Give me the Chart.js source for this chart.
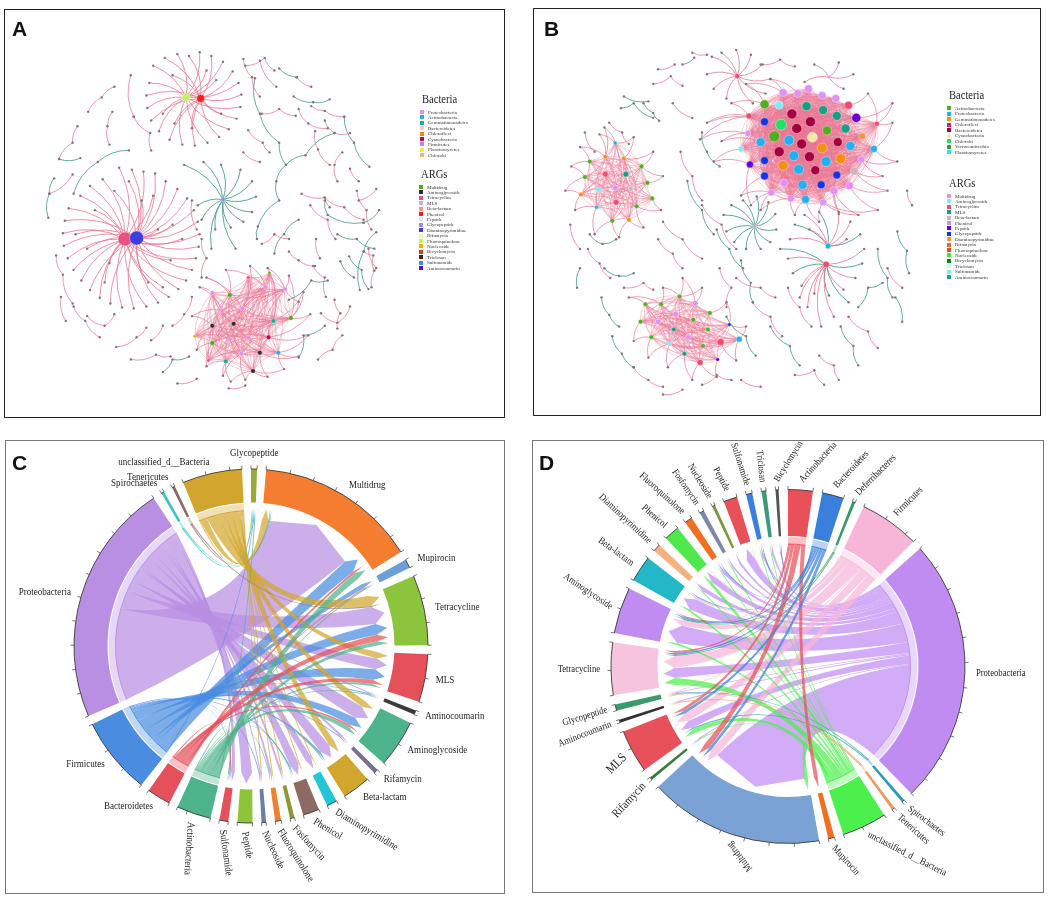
<!DOCTYPE html>
<html>
<head>
<meta charset="utf-8">
<script src="https://cdn.jsdelivr.net/npm/chart.js@4.4.0/dist/chart.umd.min.js"></script>
<style>
  body { margin: 0; background: #fff; width: 1052px; height: 904px; position: relative; overflow: hidden; }
  .frame { position: absolute; box-sizing: border-box; }
  canvas { position: absolute; }
  .tag { position: absolute; font: bold 21px "Liberation Sans", Arial, sans-serif; line-height: 1; color: #111; }
  .lg-title { position: absolute; font: 12px "Liberation Serif", serif; color: #222; white-space: nowrap; line-height: 1;
    transform: scaleX(0.88); transform-origin: left center; }
  .lg-item { position: absolute; font: 5px "Liberation Serif", serif; color: #333; white-space: nowrap; line-height: 5px; }
  .lg-box { position: absolute; width: 4px; height: 4px; }
</style>
</head>
<body>
<div class="frame" style="left:4px;top:9px;width:501px;height:409px;border:1.5px solid #222"></div>
<div class="frame" style="left:533px;top:8px;width:508px;height:408px;border:1.5px solid #222"></div>
<div class="frame" style="left:5px;top:440px;width:500px;height:454px;border:1px solid #777"></div>
<div class="frame" style="left:532px;top:440px;width:512px;height:453px;border:1px solid #777"></div>

<canvas id="netA" width="501" height="409" style="left:4px;top:9px"></canvas>
<canvas id="netB" width="508" height="408" style="left:533px;top:8px"></canvas>
<canvas id="chordC" width="500" height="454" style="left:5px;top:440px"></canvas>
<canvas id="chordD" width="512" height="453" style="left:532px;top:440px"></canvas>

<div class="tag" style="left:12px;top:18px">A</div>
<div class="tag" style="left:544px;top:18px">B</div>
<div class="tag" style="left:12px;top:452px">C</div>
<div class="tag" style="left:539px;top:452px">D</div>

<script>
// ---------- panel A: network ----------
const aBacteria = ["Proteobacteria", "Actinobacteria", "Gemmatimonadetes", "Bacteroidetes", "Chloroflexi",
  "Cyanobacteria", "Firmicutes", "Planctomycetes", "Chlorobi"];
const aArgs = ["Multidrug", "Aminoglycoside", "Tetracycline", "MLS", "Beta-lactam", "Phenicol", "Peptide",
  "Glycopeptide", "Diaminopyrimidine", "Rifamycin", "Fluoroquinolone", "Nucleoside", "Bicyclomycin",
  "Triclosan", "Sulfonamide", "Aminocoumarin"];

// hubs: [x, y, type, size]; leaves: [x, y, hub]
const aBigHubs = [[121, 240, "Tetracycline", 7], [133, 239, "Diaminopyrimidine", 7]];
const aBigLeaves = [
  [115, 166, 0], [128, 168, 1], [140, 170, 0], [152, 172, 1], [98, 178, 0], [163, 180, 1], [85, 185, 0],
  [175, 188, 1], [75, 195, 0], [185, 198, 1], [192, 210, 0], [196, 222, 1], [198, 235, 0], [197, 248, 1],
  [194, 260, 0], [190, 272, 1], [184, 283, 0], [176, 292, 1], [166, 300, 0], [155, 306, 1], [143, 310, 0],
  [130, 312, 1], [118, 311, 0], [106, 307, 1], [95, 301, 0], [85, 293, 1], [76, 283, 0], [68, 272, 1],
  [62, 260, 0], [58, 247, 1], [57, 234, 0], [59, 221, 1], [63, 208, 0], [110, 190, 1], [150, 195, 0],
  [170, 225, 1], [168, 262, 0], [145, 285, 1], [100, 285, 0], [82, 250, 1], [90, 210, 0], [125, 180, 1],
  [160, 290, 0], [70, 235, 1], [180, 240, 0], [138, 200, 1], [105, 265, 0], [155, 230, 1]];
const aTopHubs = [[184, 93, "Fluoroquinolone", 4], [199, 94, "Phenicol", 4]];
const aTopLeaves = [
  [150, 60, 0], [162, 52, 1], [175, 48, 0], [187, 50, 1], [198, 46, 0], [210, 50, 1], [222, 56, 0],
  [232, 66, 1], [238, 78, 0], [241, 90, 1], [240, 103, 0], [236, 115, 1], [228, 126, 0], [218, 134, 1],
  [206, 140, 0], [193, 143, 1], [180, 142, 0], [167, 137, 1], [156, 128, 0], [148, 117, 1], [144, 104, 0],
  [143, 91, 1], [146, 78, 0], [170, 70, 1], [215, 75, 0], [220, 110, 1], [160, 110, 0], [190, 125, 1],
  [205, 65, 0], [172, 120, 1]];
const aFanHubs = [[222, 199, "Glycopeptide", 2.2]];
const aFanLeaves = [
  [182, 163, 0], [202, 160, 0], [220, 163, 0], [240, 168, 0], [252, 180, 0], [256, 196, 0], [252, 212, 0],
  [243, 222, 0], [230, 228, 0], [214, 230, 0], [200, 220, 0], [196, 205, 0], [235, 250, 0], [210, 250, 0]];
// dense module: [x, y, type, size]; rim: [x, y, member, member]
const aModule = [
  [211, 296, "Proteobacteria", 2.3], [229, 298, "Multidrug", 2.3], [266, 290, "Proteobacteria", 2.3],
  [286, 292, "Proteobacteria", 2.3], [221, 314, "Proteobacteria", 2.3], [242, 312, "Proteobacteria", 2.3],
  [211, 330, "Aminoglycoside", 2.3], [233, 328, "Aminoglycoside", 2.3], [274, 325, "Gemmatimonadetes", 2.3],
  [292, 322, "Multidrug", 2.3], [269, 342, "Cyanobacteria", 2.3], [229, 344, "Proteobacteria", 2.3],
  [248, 342, "Proteobacteria", 2.3], [211, 348, "Multidrug", 2.3], [241, 359, "Proteobacteria", 2.3],
  [260, 358, "Aminoglycoside", 2.3], [279, 358, "Actinobacteria", 2.3], [225, 367, "Gemmatimonadetes", 2.3],
  [253, 377, "Aminoglycoside", 2.3], [193, 341, "Nucleoside", 1.8], [207, 366, "Tetracycline", 1.8],
  [248, 280, "Tetracycline", 1.8], [270, 275, "Multidrug", 1.5]];
const aModuleRim = [
  [198, 290, 0, 4], [205, 280, 1, 5], [225, 272, 1, 2], [250, 268, 2, 5], [268, 270, 3, 8], [290, 278, 3, 9],
  [305, 295, 9, 8], [312, 318, 9, 10], [310, 340, 10, 16], [300, 362, 16, 15], [285, 375, 16, 18],
  [268, 383, 18, 15], [245, 386, 18, 14], [222, 382, 17, 14], [205, 372, 17, 13], [195, 355, 13, 6],
  [190, 320, 6, 4], [300, 305, 9, 3], [230, 388, 17, 18]];
// loose chains: tone ("p" pink / "g" green) then nodes
const aChains = [
  ["p", [127, 70], [130, 113]], ["p", [110, 82], [97, 93], [83, 108]], ["p", [108, 108], [103, 123], [105, 142]],
  ["p", [130, 113], [147, 130], [148, 148]], ["p", [72, 123], [67, 140], [53, 157]], ["g", [53, 157], [75, 156]],
  ["g", [125, 148], [93, 160], [68, 193]], ["g", [48, 177], [43, 193], [42, 218]], ["p", [43, 193], [67, 173]],
  ["p", [50, 257], [57, 277], [67, 307]], ["p", [68, 310], [80, 325], [95, 342]],
  ["p", [112, 352], [133, 342], [143, 332]], ["p", [127, 365], [153, 360], [168, 362]],
  ["g", [160, 378], [170, 365], [187, 362]], ["p", [82, 320], [100, 330], [110, 318]], ["p", [55, 300], [60, 325]],
  ["p", [170, 330], [182, 318], [190, 300]], ["p", [243, 53], [252, 72], [260, 92]], ["p", [260, 55], [277, 82]],
  ["g", [280, 63], [298, 72]], ["p", [298, 72], [313, 82]], ["g", [295, 92], [315, 98], [332, 95]],
  ["g", [255, 73], [260, 110], [280, 140], [287, 163]], ["p", [262, 110], [280, 105], [297, 112]],
  ["p", [313, 102], [327, 107], [347, 113]], ["g", [347, 113], [357, 140], [373, 165]],
  ["p", [327, 117], [337, 130], [353, 130]], ["p", [345, 150], [337, 163], [340, 180]], ["p", [353, 167], [362, 180]],
  ["g", [337, 130], [307, 153], [287, 163]], ["g", [287, 163], [277, 180], [280, 200], [258, 227], [257, 240]],
  ["p", [248, 127], [263, 140], [270, 150]], ["p", [243, 150], [260, 160]], ["p", [317, 128], [320, 147], [332, 163]],
  ["p", [303, 193], [327, 197], [332, 207]], ["p", [327, 197], [347, 207], [367, 220]],
  ["g", [327, 200], [330, 215], [367, 223]], ["p", [362, 200], [380, 188]], ["g", [367, 223], [383, 210]],
  ["g", [343, 263], [357, 280]], ["g", [380, 233], [367, 253], [363, 293]], ["p", [367, 253], [377, 257], [378, 273]],
  ["p", [290, 253], [300, 262], [317, 268]], ["p", [315, 268], [327, 280], [328, 300]],
  ["g", [290, 303], [313, 283], [330, 283]], ["g", [300, 363], [305, 340], [327, 330]],
  ["p", [323, 317], [340, 327], [353, 310]], ["p", [337, 303], [343, 317], [340, 333]],
  ["p", [200, 240], [205, 260], [200, 280]], ["p", [190, 200], [195, 230]], ["p", [262, 245], [275, 235], [290, 240]],
  ["p", [228, 395], [245, 392]], ["p", [175, 390], [195, 385]], ["p", [148, 345], [160, 330]],
  ["p", [245, 60], [265, 52], [275, 65]], ["p", [300, 105], [310, 120], [330, 125]],
  ["p", [360, 190], [370, 210], [375, 230]], ["g", [340, 235], [360, 240], [378, 250]],
  ["p", [372, 250], [380, 270], [375, 290]], ["g", [352, 258], [365, 272], [372, 292]],
  ["p", [312, 205], [330, 220], [338, 240]], ["p", [318, 240], [322, 260]], ["g", [300, 220], [285, 235], [275, 255]],
  ["p", [345, 340], [335, 355], [320, 365]]];

// ---------- panel B: network ----------
const bBacteria = ["Actinobacteria", "Proteobacteria", "Gemmatimonadetes", "Chloroflexi", "Bacteroidetes",
  "Cyanobacteria", "Chlorobi", "Verrucomicrobia", "Planctomycetes"];
const bArgs = aArgs.slice();

const bCore = [
  [783, 89, "Multidrug", 4], [798, 90, "Multidrug", 4], [809, 85, "Multidrug", 4], [823, 92, "Multidrug", 4],
  [837, 95, "Multidrug", 4], [850, 102, "Tetracycline", 4], [764, 101, "Actinobacteria", 4.5],
  [779, 102, "Aminoglycoside", 4], [807, 103, "MLS", 4.5], [824, 107, "MLS", 4.5], [838, 113, "MLS", 4.5],
  [858, 115, "Peptide", 4.5], [792, 111, "Bacteroidetes", 5], [811, 119, "Bacteroidetes", 5],
  [781, 122, "Chlorobi", 5.5], [797, 126, "Bacteroidetes", 5], [828, 128, "Actinobacteria", 4.5],
  [847, 126, "MLS", 4.5], [764, 119, "Glycopeptide", 4], [774, 134, "Actinobacteria", 5.5],
  [789, 138, "Proteobacteria", 5], [813, 135, "Cyanobacteria", 5], [802, 142, "Bacteroidetes", 5],
  [823, 146, "Gemmatimonadetes", 5], [839, 140, "Bacteroidetes", 4.5], [852, 144, "Proteobacteria", 4.5],
  [760, 140, "Proteobacteria", 4.5], [779, 150, "Bacteroidetes", 5], [794, 154, "Proteobacteria", 5],
  [810, 155, "Bacteroidetes", 5], [827, 160, "Proteobacteria", 5], [842, 157, "Gemmatimonadetes", 5],
  [864, 134, "Diaminopyrimidine", 3.5], [764, 159, "Glycopeptide", 4], [749, 163, "Peptide", 3.5],
  [783, 164, "Gemmatimonadetes", 5], [799, 168, "Proteobacteria", 5], [816, 169, "Bacteroidetes", 4.5],
  [838, 174, "Glycopeptide", 4], [856, 170, "Beta-lactam", 4], [764, 175, "Glycopeptide", 4],
  [784, 182, "Multidrug", 4], [803, 184, "Proteobacteria", 4.5], [822, 184, "Glycopeptide", 4],
  [835, 190, "Multidrug", 4], [851, 185, "Multidrug", 4], [771, 192, "Multidrug", 3.5],
  [791, 198, "Multidrug", 3.5], [806, 199, "Proteobacteria", 4], [824, 202, "Multidrug", 3.5],
  [863, 158, "Multidrug", 3.5], [876, 147, "Proteobacteria", 3.5], [879, 121, "Tetracycline", 2.5],
  [748, 113, "Tetracycline", 3], [747, 131, "Multidrug", 3], [740, 147, "Aminoglycoside", 3]];
const bCoreRim = [
  [698, 137, 53, 54], [720, 139, 54, 26], [705, 120, 53, 18], [730, 100, 6, 53], [745, 80, 0, 6],
  [770, 75, 0, 1], [900, 160, 51, 50], [890, 190, 45, 39], [880, 210, 49, 45], [860, 215, 44, 49],
  [840, 212, 44, 38], [870, 90, 5, 52], [895, 120, 52, 51], [885, 175, 50, 39], [740, 195, 46, 40],
  [750, 205, 46, 34], [760, 210, 47, 46], [712, 160, 55, 34], [895, 100, 52, 11], [795, 215, 47, 48],
  [820, 222, 48, 49]];
const bLeftModule = [
  [601, 173, "Tetracycline", 2.8], [622, 173, "MLS", 2.8], [611, 187, "Multidrug", 2.8],
  [594, 189, "Aminoglycoside", 2.8], [612, 202, "Tetracycline", 2.8], [638, 165, "Actinobacteria", 2.3],
  [644, 182, "Actinobacteria", 2.3], [633, 206, "Actinobacteria", 2.3], [625, 220, "Gemmatimonadetes", 2.3],
  [608, 221, "Actinobacteria", 2.3], [576, 194, "Gemmatimonadetes", 2.3], [580, 176, "Actinobacteria", 2.3],
  [585, 160, "Actinobacteria", 2.3], [601, 155, "Gemmatimonadetes", 2.3], [620, 157, "Gemmatimonadetes", 2.3],
  [611, 141, "Proteobacteria", 2], [592, 207, "Proteobacteria", 2], [649, 198, "Actinobacteria", 2.3],
  [627, 188, "Beta-lactam", 2.3]];
const bLeftRim = [
  [566, 165, 11, 12], [570, 210, 10, 16], [560, 190, 10, 11], [590, 235, 9, 16], [615, 238, 8, 9],
  [640, 228, 7, 8], [658, 210, 17, 7], [660, 175, 5, 6], [650, 150, 14, 5], [630, 135, 15, 14],
  [595, 132, 15, 13], [575, 145, 12, 13], [600, 125, 15, 13]];
const bLowModule = [
  [677, 299, "Actinobacteria", 2.3], [693, 306, "Multidrug", 2.8], [708, 316, "Actinobacteria", 2.3],
  [658, 307, "Actinobacteria", 2.3], [642, 307, "Actinobacteria", 2.3], [673, 317, "Multidrug", 2.8],
  [655, 325, "Multidrug", 2.8], [691, 323, "Actinobacteria", 2.3], [671, 333, "MLS", 2.3],
  [706, 333, "Actinobacteria", 2.3], [686, 341, "Multidrug", 2.8], [648, 341, "Actinobacteria", 2.3],
  [667, 348, "Aminoglycoside", 2.3], [701, 350, "Actinobacteria", 2.3], [682, 358, "MLS", 2.3],
  [719, 346, "Tetracycline", 3.5], [738, 343, "Proteobacteria", 3], [728, 328, "Glycopeptide", 1.8],
  [698, 367, "Tetracycline", 3], [716, 364, "Peptide", 1.8], [637, 325, "Actinobacteria", 2.3]];
const bLowRim = [
  [625, 300, 4, 3], [630, 345, 11, 20], [645, 362, 11, 12], [665, 372, 12, 14], [690, 385, 18, 14],
  [715, 382, 19, 18], [735, 365, 15, 16], [745, 330, 16, 17], [725, 305, 2, 17], [700, 290, 0, 1],
  [660, 290, 3, 0], [680, 280, 0, 1]];
const bStarHubs = [[829, 247, "Proteobacteria", 2.8], [827, 266, "Tetracycline", 3.2]];
// leaves: [x, y, hub, tone]
const bStarLeaves = [
  [795, 225, 0, "g"], [805, 215, 0, "p"], [820, 212, 0, "g"], [840, 214, 0, "p"], [852, 222, 0, "p"],
  [862, 235, 0, "g"], [866, 250, 1, "p"], [864, 265, 1, "g"], [857, 280, 1, "p"], [845, 292, 1, "p"],
  [830, 298, 1, "g"], [815, 296, 1, "p"], [802, 288, 1, "p"], [793, 275, 1, "g"], [788, 260, 1, "p"],
  [790, 240, 0, "p"], [810, 230, 0, "p"], [848, 240, 0, "p"], [808, 310, 1, "p"], [835, 320, 1, "p"],
  [850, 305, 1, "g"], [800, 300, 1, "p"], [780, 250, 1, "g"], [822, 330, 1, "p"]];
const bFanHubs = [[754, 227, "Multidrug", 2]];
const bFanLeaves = [
  [722, 215, 0], [730, 205, 0], [742, 200, 0], [756, 196, 0], [768, 202, 0], [775, 214, 0], [776, 230, 0],
  [770, 243, 0], [760, 250, 0], [745, 250, 0], [733, 243, 0], [725, 232, 0]];
const bTopHubs = [[736, 72, "Tetracycline", 2.5], [830, 73, "Multidrug", 1.8]];
const bTopLeaves = [
  [710, 52, 0], [720, 48, 0], [735, 45, 0], [750, 50, 0], [762, 60, 0], [770, 75, 0], [765, 90, 0],
  [752, 100, 0], [725, 95, 0], [712, 85, 0], [705, 70, 0], [805, 78, 1], [815, 60, 1], [845, 85, 1],
  [855, 70, 1], [840, 58, 1]];
const bChains = [
  ["p", [655, 65], [672, 60]], ["g", [680, 60], [692, 53]], ["p", [650, 80], [668, 72], [680, 82]],
  ["g", [640, 100], [650, 110], [656, 118]], ["p", [670, 100], [690, 115]], ["g", [617, 105], [630, 100], [650, 115]],
  ["p", [605, 120], [618, 130], [625, 142]], ["g", [620, 93], [645, 98]], ["p", [580, 130], [590, 150]],
  ["p", [690, 48], [705, 50]], ["g", [585, 235], [598, 245], [612, 240]], ["p", [583, 250], [595, 265], [606, 280]],
  ["g", [600, 270], [615, 278], [630, 275]], ["p", [620, 290], [640, 285], [650, 292]],
  ["g", [597, 300], [605, 318], [615, 330]], ["p", [630, 372], [645, 385], [660, 392]],
  ["g", [608, 340], [618, 358], [630, 372]], ["p", [655, 240], [670, 255], [680, 270]],
  ["p", [678, 150], [690, 175], [700, 200]], ["g", [685, 180], [700, 210], [712, 235]],
  ["p", [700, 205], [720, 225], [735, 250]], ["g", [715, 230], [728, 250], [742, 270]],
  ["p", [660, 222], [680, 240], [700, 260]], ["g", [740, 262], [750, 285], [752, 305]],
  ["p", [735, 280], [760, 290], [775, 300]], ["p", [752, 305], [770, 320], [782, 340]],
  ["g", [770, 330], [790, 350], [800, 370]], ["p", [788, 290], [800, 310], [812, 330]],
  ["g", [842, 330], [855, 350], [860, 370]], ["p", [850, 320], [870, 335], [880, 352]],
  ["g", [880, 250], [890, 280], [895, 300]], ["p", [890, 270], [905, 290]], ["g", [900, 232], [910, 252], [912, 275]],
  ["p", [910, 190], [915, 205]], ["g", [905, 325], [898, 300]], ["p", [700, 390], [715, 380], [730, 385]],
  ["p", [740, 385], [760, 392]], ["p", [820, 360], [835, 370], [840, 385]], ["g", [575, 270], [572, 290]],
  ["p", [565, 225], [575, 250]], ["g", [860, 310], [870, 290], [885, 285]], ["p", [760, 60], [780, 55], [795, 62]],
  ["g", [700, 130], [705, 150], [718, 165]], ["p", [718, 270], [730, 290], [725, 310]], ["p", [660, 400], [680, 395]],
  ["g", [725, 320], [745, 340], [755, 360]], ["p", [795, 380], [815, 375], [825, 390]]];

// ---------- panel C: chord ----------
const cBacteria = ["Actinobacteria", "Bacteroidetes", "Firmicutes", "Proteobacteria", "Spirochaetes",
  "Tenericutes", "unclassified_d__Bacteria"];
const cArgs = ["Glycopeptide", "Multidrug", "Mupirocin", "Tetracycline", "MLS", "Aminocoumarin",
  "Aminoglycoside", "Rifamycin", "Beta-lactam", "Diaminopyrimidine", "Phenicol", "Fosfomycin",
  "Fluoroquinolone", "Nucleoside", "Peptide", "Sulfonamide"];
// rows: bacteria, columns: ARGs
const cLinks = [
  [0.5, 3, 0.5, 2, 1, 0.5, 2, 0, 0.5, 0, 0.5, 0, 0.5, 0, 0, 0.5],
  [0, 1, 0.5, 3, 2, 0, 1, 0, 0, 0, 0, 0, 0, 0, 0, 0.5],
  [0.5, 6, 2, 5, 5, 0.5, 4, 0.5, 1, 0, 0.5, 0, 0, 0.5, 0, 0.5],
  [0, 40, 0, 8, 5, 0.5, 6, 1, 5, 3, 4, 1, 1, 0.5, 5, 1.5],
  [0.5, 0.5, 0, 0, 0, 0, 0, 0, 0, 0, 0, 0, 0, 0, 0, 0],
  [0, 0.5, 0, 0.5, 0, 0, 0, 0, 0, 0, 0, 0, 0, 0, 0, 0],
  [0.5, 3, 0, 5, 3, 0, 3, 0, 3, 0.5, 0.5, 0.5, 0.5, 0.5, 0, 0]];

// ---------- panel D: chord ----------
const dBacteria = ["Actinobacteria", "Bacteroidetes", "Deferribacteres", "Firmicutes", "Proteobacteria",
  "Spirochaetes", "Tenericutes", "unclassified_d__Bacteria"];
const dArgs = ["Mupirocin", "Multidrug", "Rifamycin", "MLS", "Aminocoumarin", "Glycopeptide", "Tetracycline",
  "Aminoglycoside", "Beta-lactam", "Diaminopyrimidine", "Phenicol", "Fluoroquinolone", "Fosfomycin",
  "Nucleoside", "Peptide", "Sulfonamide", "Triclosan", "Bicyclomycin"];
const dLinks = [
  [2, 3, 0, 1.5, 0, 0, 1, 0.5, 0, 0, 0, 0, 0, 0, 0, 0, 0, 0],
  [0, 1.5, 0, 1.5, 0, 0, 1, 1, 0.5, 0, 0, 0.5, 0, 0, 0, 0.5, 0, 0.5],
  [0, 0, 0, 0, 0, 0, 0.5, 0.5, 0, 0, 0, 0, 0, 0, 0, 0, 0, 0],
  [0, 4, 0, 4, 0, 0.5, 6, 3, 1, 0, 0.5, 0, 0, 0, 0.5, 0, 0, 0],
  [0, 46, 0.5, 4, 0.5, 0.5, 5, 9, 6, 2, 3, 1.5, 1, 1, 4, 1, 1, 0.5],
  [0, 0, 0, 0.5, 0, 0.5, 0, 0, 0, 0, 0, 0, 0, 0, 0, 0, 0, 0],
  [0, 0, 0, 0, 0.5, 0.5, 0, 0, 0, 0, 0, 0, 0, 0, 0, 0, 0, 0],
  [0, 2, 0.5, 2.5, 0, 0, 3.5, 1, 1, 0.5, 1.5, 0.5, 0.5, 0, 0, 0.5, 0.5, 0]];

// ---------- styles ----------
const aBacteriaColors = ["#e58de6", "#1cb4e2", "#12b38e", "#f6c9d2", "#f28315", "#c4004f", "#a48ff0", "#eef03e", "#efb46e"];
const aArgColors = ["#4daa12", "#2e2e2e", "#e9527f", "#d2b2b4", "#f29494", "#f01e1e", "#dbe6f6", "#a585e6",
  "#3d3de6", "#f2f5a5", "#c4f064", "#f0b000", "#d04010", "#5a1a08", "#3f82f2", "#5010d6"];
const bBacteriaColors = ["#55ad22", "#1eb2f2", "#f29012", "#e81c62", "#a30042", "#f7e9a6", "#22e266", "#36a324", "#24e8e2"];
const bArgColors = ["#e091f2", "#84e6f6", "#f04a72", "#12a283", "#cbb5b5", "#c394f2", "#6400e2", "#1434e6",
  "#f29444", "#f26624", "#e25414", "#44e424", "#008a10", "#cff8f8", "#66f6f0", "#14a484"];
const cBacteriaColors = ["#4db38a", "#e5515a", "#4a8de0", "#b88fe3", "#3cc6c6", "#8e6b62", "#d2a62c"];
const cArgColors = ["#9aa83a", "#f47d30", "#6c9fd6", "#8cc43c", "#e5515a", "#3a3a3a", "#4db38a", "#7a7090",
  "#d2a62c", "#22c6d6", "#8e6b62", "#8a9a30", "#f08030", "#6a7fa8", "#8cc43c", "#e5515a"];
const dBacteriaColors = ["#e8505a", "#3a7fdc", "#3a9a6a", "#f7b6d8", "#c08cf2", "#2a9fb0", "#e89a60", "#4cf04c"];
const dArgColors = ["#f07020", "#7aa2d4", "#3a7a3a", "#e8505a", "#333333", "#3a9a6a", "#f7c4e0", "#c08cf2",
  "#22b8c8", "#f7b080", "#4ce84c", "#f07020", "#7a8aa8", "#7a9a3a", "#e8505a", "#3a7fdc", "#3a9a7a", "#555555"];
// label orientation: [direction in degrees, align]; others horizontal
const cLabelTurn = { "Diaminopyrimidine": [31, "left"], "Phenicol": [31, "left"], "Fosfomycin": [48, "left"],
  "Fluoroquinolone": [58, "left"], "Nucleoside": [65, "left"], "Peptide": [80, "left"], "Sulfonamide": [82, "left"],
  "Actinobacteria": [94, "left"] };
const dLabelTurn = { "Actinobacteria": [-48, "left"], "Bacteroidetes": [-47, "left"], "Deferribacteres": [-45, "left"],
  "Firmicutes": [-45, "left"], "Spirochaetes": [37, "left"], "Tenericutes": [42, "left"],
  "unclassified_d__Bacteria": [27, "left"], "Mupirocin": [48, "left"], "Multidrug": [232, "right"],
  "Rifamycin": [-47, "right"], "MLS": [-45, "right"], "Aminocoumarin": [-21, "right"], "Glycopeptide": [-17, "right"],
  "Aminoglycoside": [34, "right"], "Beta-lactam": [36, "right"], "Diaminopyrimidine": [43, "right"],
  "Phenicol": [41, "right"], "Fluoroquinolone": [42, "right"], "Fosfomycin": [55, "right"], "Nucleoside": [59, "right"],
  "Peptide": [62, "right"], "Sulfonamide": [72, "right"], "Triclosan": [84, "right"], "Bicyclomycin": [-58, "left"] };
const dLabelSize = { "MLS": 13, "Rifamycin": 12, "Bicyclomycin": 9.5 };

const TONE = { p: [232, 118, 146], g: [52, 150, 116] };
const LEAF = "#85746a";

function rgba(hex, a) {
  const n = parseInt(hex.slice(1), 16);
  return `rgba(${n >> 16},${(n >> 8) & 255},${n & 255},${a})`;
}

// ---------- network drawing ----------
function buildNet(stars, modules, chains) {
  const nodes = [], edges = [];
  const add = (p, name, r) => { nodes.push({ x: p[0], y: p[1], name, r }); return nodes.length - 1; };
  stars.forEach(([hubs, leaves, tone]) => {
    const ids = hubs.map(h => add(h, h[2], h[3]));
    leaves.forEach(l => edges.push([ids[l[2]], add(l, null, 1.2), l[3] || tone, 0.85]));
  });
  modules.forEach(([members, rim, alpha]) => {
    const ids = members.map(m => add(m, m[2], m[3]));
    ids.forEach((a, k) => ids.slice(k + 1).forEach(b => edges.push([a, b, "p", alpha])));
    rim.forEach(r => {
      const id = add(r, null, 1.2);
      edges.push([ids[r[2]], id, "p", 0.75], [ids[r[3]], id, "p", 0.75]);
    });
  });
  chains.forEach(ch => {
    const ids = ch.slice(1).map(p => add(p, null, 1.2));
    ids.slice(1).forEach((id, k) => edges.push([ids[k], id, ch[0], 0.8]));
  });
  nodes.forEach(n => n.order = n.name ? 1 : 0);
  return { nodes, edges };
}

function edgePlugin(net) {
  return {
    id: "edges",
    beforeDatasetsDraw(chart) {
      const { ctx, scales: { x, y } } = chart;
      ctx.save();
      net.edges.forEach(([i, j, tone, alpha]) => {
        const a = net.nodes[i], b = net.nodes[j];
        const x1 = x.getPixelForValue(a.x), y1 = y.getPixelForValue(a.y);
        const x2 = x.getPixelForValue(b.x), y2 = y.getPixelForValue(b.y);
        const dx = x2 - x1, dy = y2 - y1;
        const c = TONE[tone];
        ctx.strokeStyle = `rgba(${c[0]},${c[1]},${c[2]},${alpha})`;
        ctx.lineWidth = alpha < 0.6 ? 0.7 : 0.95;
        ctx.beginPath();
        ctx.moveTo(x1, y1);
        ctx.quadraticCurveTo((x1 + x2) / 2 - dy * 0.2, (y1 + y2) / 2 + dx * 0.2, x2, y2);
        ctx.stroke();
      });
      ctx.restore();
    }
  };
}

function drawNet(id, net, names, colors, xr, yr) {
  const colorOf = {};
  names.forEach((n, i) => colorOf[n] = colors[i]);
  const list = net.nodes.slice().sort((p, q) => p.order - q.order);
  new Chart(document.getElementById(id), {
    type: "scatter",
    data: {
      datasets: [{
        data: list.map(n => ({ x: n.x, y: n.y })),
        pointRadius: list.map(n => n.r),
        pointHoverRadius: list.map(n => n.r),
        backgroundColor: list.map(n => n.name ? colorOf[n.name] : LEAF),
        borderColor: list.map(n => n.name ? "rgba(255,255,255,0.7)" : LEAF),
        borderWidth: list.map(n => n.name ? 0.5 : 0),
        clip: false
      }]
    },
    options: {
      responsive: false, animation: false, events: [],
      layout: { padding: 0 },
      plugins: { legend: { display: false }, tooltip: { enabled: false } },
      scales: {
        x: { type: "linear", min: xr[0], max: xr[1], display: false },
        y: { type: "linear", min: yr[0], max: yr[1], reverse: true, display: false }
      }
    },
    plugins: [edgePlugin(net)]
  });
}

const netA = buildNet(
  [[aBigHubs, aBigLeaves, "p"], [aTopHubs, aTopLeaves, "p"], [aFanHubs, aFanLeaves, "g"]],
  [[aModule, aModuleRim, 0.55]],
  aChains);
drawNet("netA", netA, aBacteria.concat(aArgs), aBacteriaColors.concat(aArgColors), [4, 505], [9, 418]);

const netB = buildNet(
  [[bStarHubs, bStarLeaves, "p"], [bFanHubs, bFanLeaves, "g"], [bTopHubs, bTopLeaves, "p"]],
  [[bCore, bCoreRim, 0.4], [bLeftModule, bLeftRim, 0.5], [bLowModule, bLowRim, 0.5]],
  bChains);
drawNet("netB", netB, bBacteria.concat(bArgs), bBacteriaColors.concat(bArgColors), [533, 1041], [8, 416]);

// ---------- legends ----------
function legend(x, y0, title, names, colors, step) {
  const t = document.createElement("div");
  t.className = "lg-title";
  t.style.left = x + "px"; t.style.top = (y0 - 7) + "px";
  t.textContent = title;
  document.body.appendChild(t);
  names.forEach((n, i) => {
    const y = y0 + 12 + i * step;
    const b = document.createElement("div");
    b.className = "lg-box";
    b.style.left = (x - 2) + "px"; b.style.top = (y - 2) + "px"; b.style.background = colors[i];
    document.body.appendChild(b);
    const s = document.createElement("div");
    s.className = "lg-item";
    s.style.left = (x + 6) + "px"; s.style.top = (y - 2.5) + "px";
    s.textContent = n;
    document.body.appendChild(s);
  });
}
legend(422, 100, "Bacteria", aBacteria, aBacteriaColors, 5.4);
legend(421, 175, "ARGs", aArgs, aArgColors, 5.4);
legend(949, 96, "Bacteria", bBacteria, bBacteriaColors, 5.5);
legend(949, 184, "ARGs", bArgs, bArgColors, 5.4);

// ---------- chord drawing ----------
const GAP = 3;

function chordChart(id, cfg) {
  const bSum = cfg.bacteria.map((_, b) => cfg.links[b].reduce((s, v) => s + v, 0));
  const aSum = cfg.args.map((_, a) => cfg.links.reduce((s, row) => s + row[a], 0));
  const bSecs = cfg.bacteria.map((name, i) => ({ name, kind: "b", idx: i, value: bSum[i], color: cfg.bColors[i] }));
  const aSecs = cfg.args.map((name, i) => ({ name, kind: "a", idx: i, value: aSum[i], color: cfg.aColors[i] }));
  const sectors = cfg.argsFirst ? aSecs.concat(bSecs) : bSecs.concat(aSecs);
  const values = [], colors = [];
  sectors.forEach(s => { values.push(s.value, GAP); colors.push(s.color, "rgba(0,0,0,0)"); });

  const plugin = {
    id: "chords",
    afterDatasetsDraw(chart) {
      const ctx = chart.ctx;
      const arcs = chart.getDatasetMeta(0).data;
      const cx = arcs[0].x, cy = arcs[0].y, R = arcs[0].outerRadius, rIn = arcs[0].innerRadius;
      const rTrack = rIn - 8, rBase = rIn - 17, rTip = rIn - 6;
      const secs = sectors.map((s, k) => {
        const el = arcs[2 * k];
        return Object.assign({}, s, { a0: el.startAngle, a1: el.endAngle, u: (el.endAngle - el.startAngle) / s.value });
      });
      const bSec = {}, aSec = {};
      secs.forEach(s => (s.kind === "b" ? bSec : aSec)[s.idx] = s);

      // place link ends inside their sectors
      const spans = {};
      cfg.bacteria.forEach((_, b) => {
        const s = bSec[b];
        let cur = s.a0;
        const order = cfg.args.map((_, a) => a);
        if (cfg.srcReverse) order.reverse();
        order.forEach(a => {
          const v = cfg.links[b][a];
          if (!v) return;
          spans[b + "_" + a] = { b, a, s0: cur, s1: cur + v * s.u };
          cur += v * s.u;
        });
      });
      cfg.args.forEach((_, a) => {
        const s = aSec[a];
        let cur = s.a0;
        for (let b = cfg.bacteria.length - 1; b >= 0; b--) {
          const v = cfg.links[b][a];
          if (!v) continue;
          const sp = spans[b + "_" + a];
          sp.t0 = cur; sp.t1 = cur + v * s.u; cur = sp.t1;
        }
      });

      const pt = (r, t) => [cx + r * Math.cos(t), cy + r * Math.sin(t)];
      // bezier control pulled toward the centre
      const curveTo = (p0, p1) => {
        const mx = (p0[0] + p1[0]) / 2, my = (p0[1] + p1[1]) / 2;
        ctx.quadraticCurveTo(cx + (mx - cx) * 0.3, cy + (my - cy) * 0.3, p1[0], p1[1]);
      };
      ctx.save();
      const drawOrder = cfg.bacteria.map((_, b) => b).sort((p, q) => bSum[q] - bSum[p]);
      drawOrder.forEach(b => {
        cfg.args.forEach((_, a) => {
          const sp = spans[b + "_" + a];
          if (!sp) return;
          ctx.fillStyle = rgba(cfg.bColors[b], 0.72);
          ctx.beginPath();
          ctx.arc(cx, cy, rTrack, sp.s0, sp.s1);
          const q0 = pt(rBase, sp.t0), tip = pt(rTip, (sp.t0 + sp.t1) / 2), q1 = pt(rBase, sp.t1);
          curveTo(pt(rTrack, sp.s1), q0);
          ctx.lineTo(tip[0], tip[1]);
          ctx.lineTo(q1[0], q1[1]);
          curveTo(q1, pt(rTrack, sp.s0));
          ctx.closePath();
          ctx.fill();
        });
      });

      // source tracks, outlines, ticks
      secs.forEach(s => {
        if (s.kind === "b") {
          ctx.fillStyle = rgba(s.color, 0.35);
          ctx.beginPath();
          ctx.arc(cx, cy, rIn - 1, s.a0, s.a1);
          ctx.arc(cx, cy, rTrack, s.a1, s.a0, true);
          ctx.closePath();
          ctx.fill();
          ctx.strokeStyle = rgba(s.color, 0.9);
          ctx.lineWidth = 1;
          ctx.beginPath();
          ctx.arc(cx, cy, rTrack, s.a0, s.a1);
          ctx.stroke();
        }
        ctx.strokeStyle = "#3a3a3a";
        ctx.lineWidth = 0.9;
        ctx.beginPath();
        ctx.arc(cx, cy, R, s.a0, s.a1);
        ctx.stroke();
        ctx.lineWidth = 0.7;
        const ticks = [s.a0, s.a1];
        for (let v = 8; v < s.value - 2; v += 8) ticks.push(s.a0 + v * s.u);
        ticks.forEach(t => {
          const p1 = pt(R, t), p2 = pt(R + 3.5, t);
          ctx.beginPath(); ctx.moveTo(p1[0], p1[1]); ctx.lineTo(p2[0], p2[1]); ctx.stroke();
        });
      });

      // labels
      ctx.fillStyle = "#222";
      secs.forEach(s => {
        const mid = (s.a0 + s.a1) / 2;
        const turn = cfg.turn[s.name];
        const size = (cfg.sizes && cfg.sizes[s.name]) || cfg.fontSize;
        ctx.font = `${size}px "Liberation Serif", "Times New Roman", serif`;
        const p = pt(R + (turn ? 9 : 11), mid);
        ctx.save();
        ctx.translate(p[0], p[1]);
        if (turn) {
          ctx.rotate(turn[0] * Math.PI / 180);
          ctx.textAlign = turn[1];
          ctx.textBaseline = "middle";
        } else {
          const sx = Math.cos(mid), sy = Math.sin(mid);
          ctx.textAlign = sx > 0.1 ? "left" : sx < -0.1 ? "right" : "center";
          ctx.textBaseline = Math.abs(sx) > 0.1 ? "middle" : sy < 0 ? "bottom" : "top";
        }
        ctx.scale(0.86, 1);
        ctx.fillText(s.name, 0, 0);
        ctx.restore();
      });
      ctx.restore();
    }
  };

  new Chart(document.getElementById(id), {
    type: "doughnut",
    data: {
      labels: sectors.flatMap(s => [s.name, ""]),
      datasets: [{ data: values, backgroundColor: colors, borderWidth: 0, hoverOffset: 0 }]
    },
    options: {
      responsive: false, animation: false, events: [],
      radius: 177, cutout: 167, rotation: 0,
      layout: { padding: cfg.padding },
      plugins: { legend: { display: false }, tooltip: { enabled: false } }
    },
    plugins: [plugin]
  });
}

chordChart("chordC", {
  bacteria: cBacteria, args: cArgs, links: cLinks, bColors: cBacteriaColors, aColors: cArgColors,
  argsFirst: true, srcReverse: false, turn: cLabelTurn, fontSize: 10.5,
  padding: { left: 0, right: 8, top: 0, bottom: 42 }
});
chordChart("chordD", {
  bacteria: dBacteria, args: dArgs, links: dLinks, bColors: dBacteriaColors, aColors: dArgColors,
  argsFirst: false, srcReverse: true, turn: dLabelTurn, sizes: dLabelSize, fontSize: 10, padding: 0
});
</script>
</body>
</html>
